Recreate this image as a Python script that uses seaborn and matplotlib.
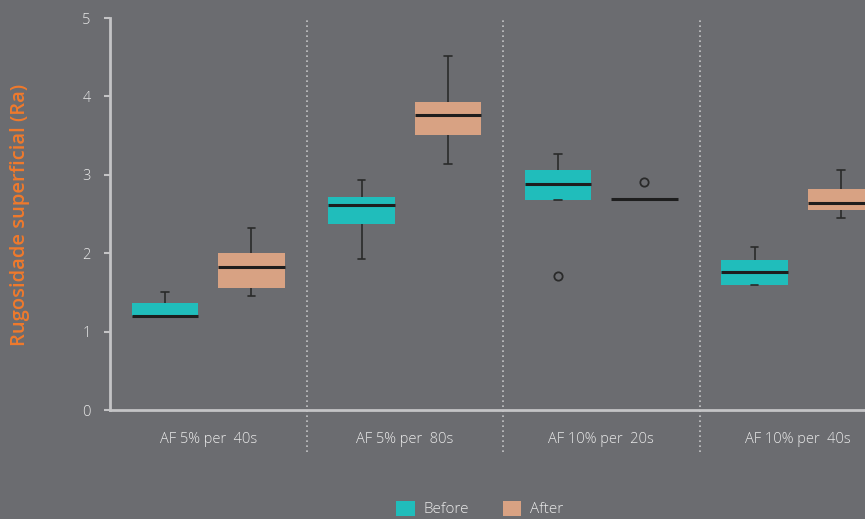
import pandas as pd
import matplotlib
matplotlib.use("Agg")
import matplotlib.pyplot as plt
import seaborn as sns
from matplotlib.patches import Patch

# categories and per-box sample values (chosen so the quartiles match the picture)
categories = ["AF 5% per  40s", "AF 5% per  80s", "AF 10% per  20s", "AF 10% per  40s"]
phases = ["Before", "After"]

before_5_40 = [1.19, 1.20, 1.20, 1.365, 1.505]
after_5_40 = [1.454, 1.56, 1.824, 2.00, 2.325]
before_5_80 = [1.926, 2.376, 2.611, 2.717, 2.934]
after_5_80 = [3.138, 3.508, 3.763, 3.929, 4.511]
before_10_20 = [1.705, 2.675, 2.683, 2.78, 2.883, 2.97, 3.061, 3.15, 3.265]
after_10_20 = [2.686, 2.686, 2.686, 2.686, 2.904]
before_10_40 = [1.594, 1.594, 1.760, 1.913, 2.079]
after_10_40 = [2.445, 2.555, 2.636, 2.819, 3.061]

BG = "#6b6c70"
TEAL = "#20bdbb"
PEACH = "#d8a283"
AXIS = "#c4c4c6"
TXT = "#e8e8e8"
ORANGE = "#f07a2c"

rows = []
groups = [before_5_40, after_5_40, before_5_80, after_5_80,
          before_10_20, after_10_20, before_10_40, after_10_40]
for i, vals in enumerate(groups):
    for v in vals:
        rows.append([categories[i // 2], phases[i % 2], v])
df = pd.DataFrame(rows, columns=["Group", "Phase", "Ra"])

sns.set_style("ticks")
plt.rcParams['font.family'] = ['Open Sans', 'DejaVu Sans']

fig = plt.figure(figsize=(8.65, 5.19), dpi=100)
fig.patch.set_facecolor(BG)
ax = fig.add_axes([110 / 865, 1 - 410 / 519, 786 / 865, 392 / 519])
ax.set_facecolor(BG)

sns.boxplot(data=df, x="Group", y="Ra", hue="Phase", order=categories, hue_order=phases,
            palette=[TEAL, PEACH], saturation=1, width=0.88, gap=0.23, ax=ax, legend=False,
            boxprops=dict(linewidth=0),
            medianprops=dict(color="#1e1e1e", linewidth=2.2),
            whiskerprops=dict(color="#2a2a2a", linewidth=1.2),
            capprops=dict(color="#2a2a2a", linewidth=1.2),
            flierprops=dict(marker="o", markerfacecolor="none", markeredgecolor="#2a2a2a",
                            markersize=6, markeredgewidth=1.3))

# shrink caps a bit
for line in ax.lines:
    xd = line.get_xdata()
    yd = line.get_ydata()
    if len(xd) == 2 and yd[0] == yd[1] and abs(xd[1] - xd[0]) > 0.1 and abs(xd[1] - xd[0]) < 0.2:
        c = (xd[0] + xd[1]) / 2
        line.set_xdata([c - 0.02, c + 0.02])

ax.set_xlim(-0.5, 3.5)
ax.set_ylim(0, 5)
ax.set_yticks([0, 1, 2, 3, 4, 5])
ax.set_xlabel("")
ax.set_ylabel("")

for s in ["top", "right"]:
    ax.spines[s].set_visible(False)
for s in ["left", "bottom"]:
    ax.spines[s].set_color(AXIS)
    ax.spines[s].set_linewidth(2)

ax.tick_params(axis="y", colors=AXIS, labelcolor=TXT, labelsize=10.5, length=4, width=1.5, pad=10)
ax.tick_params(axis="x", length=0, labelcolor=TXT, labelsize=10.5, pad=16)
for lab in ax.get_xticklabels() + ax.get_yticklabels():
    lab.set_fontweight("light")
ax.yaxis.get_major_ticks()[0].tick1line.set_color("#1a1a1a")

for xb in [0.5, 1.5, 2.5]:
    ax.axvline(xb, ymin=-0.108, ymax=1.0, color=AXIS, linestyle=(0, (1, 2)),
               linewidth=1.2, clip_on=False)

fig.text(20 / 865, 1 - 215 / 519, "Rugosidade superficial (Ra)", rotation=90,
         color=ORANGE, fontsize=14.5, fontweight="semibold", ha="center", va="center")

handles = [Patch(facecolor=TEAL, edgecolor="none"), Patch(facecolor=PEACH, edgecolor="none")]
leg = fig.legend(handles, phases, loc="center", bbox_to_anchor=(480 / 865, 1 - 509 / 519),
                 ncol=2, frameon=False, fontsize=11, handlelength=1.2, handleheight=1.2,
                 columnspacing=2.2, handletextpad=0.6)
for t in leg.get_texts():
    t.set_color(TXT)
    t.set_fontweight("light")

fig.savefig("out.png", dpi=100, facecolor=BG)
